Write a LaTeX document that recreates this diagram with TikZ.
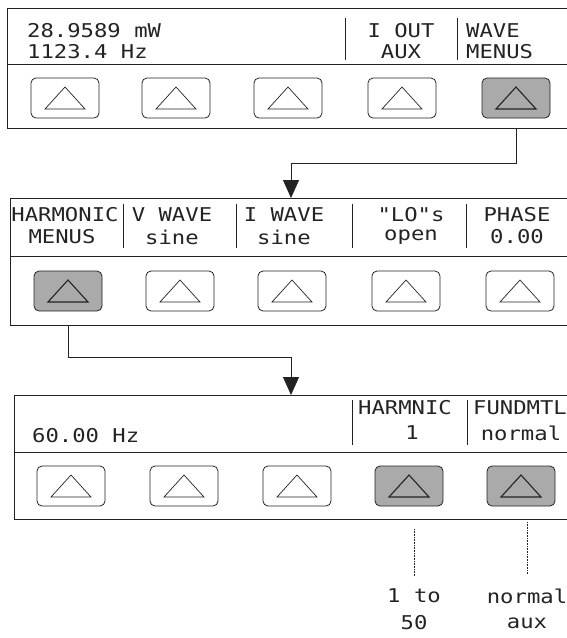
\documentclass[tikz,border=0pt]{standalone}
\usepackage{fontspec}
\usepackage{tikz}
\usetikzlibrary{arrows.meta,positioning,calc}
\newfontfamily\lcdfont[FakeStretch=1.17]{DejaVu Sans Mono}
\definecolor{ink}{RGB}{35,35,35}
\definecolor{pressed}{RGB}{170,170,170}

\begin{document}
\begin{tikzpicture}[
  x=1pt, y=-1pt,
  panel/.style={draw=ink, line width=1pt, anchor=north west, inner sep=0pt, minimum width=600pt},
  lcd/.style={font=\lcdfont\fontsize{19}{22}\selectfont, inner sep=0pt, text=ink},
  key/.style={draw=ink, line width=0.8pt, rounded corners=5pt, minimum width=68pt, minimum height=40pt, inner sep=0pt},
  keyon/.style={key, fill=pressed},
  tri/.style={draw=ink, line width=0.7pt},
  sep/.style={draw=ink, line width=0.8pt},
  arr/.style={draw=ink, line width=0.9pt, -{Triangle[length=18pt, width=16pt]}},
  hint/.style={draw=ink, line width=0.6pt, densely dotted},
]
  \useasboundingbox (0,0) rectangle (567,638);
  \clip (0,0) rectangle (567,638);

  % first menu: front panel
  \node[panel, minimum height=120pt] (p1) at (7,8) {};
  \draw[sep] (7,64) -- (600,64);
  \node[lcd, anchor=west] (pw) at (27,31) {28.9589 mW};
  \node[lcd, anchor=west] (fq) at (27,52) {1123.4 Hz};
  \draw[sep] (345,18) -- (345,60);
  \draw[sep] (457,18) -- (457,60);
  \node[lcd] (iout) at (401,31) {I OUT};
  \node[lcd] (aux) at (401,52) {AUX};
  \node[lcd, anchor=west] (wave) at (466,31) {WAVE};
  \node[lcd, anchor=west] (menus) at (466,52) {MENUS};
  \foreach \x/\s/\w [count=\i] in {65/key/0.7,176/key/0.7,288/key/0.7,402/key/0.7,516/keyon/1.1} {
    \node[\s] (k1\i) at (\x,98) {};
    \draw[tri, line width=\w pt] ($(k1\i)+(-20,11)$) -- ++(40,0) -- ++(-20,-22) -- cycle;
  }

  % second menu: wave menus
  \node[panel, minimum height=127pt] (p2) at (10,198) {};
  \draw[sep] (10,256) -- (600,256);
  \foreach \x in {123,236,352,466}
    \draw[sep] (\x,204) -- (\x,248);
  \node[lcd] (hm) at (65,215) {HARMONIC};
  \node[lcd] (hm2) at (62,237) {MENUS};
  \node[lcd] (vw) at (172,215) {V WAVE};
  \node[lcd] (vw2) at (172,237) {sine};
  \node[lcd] (iw) at (284,215) {I WAVE};
  \node[lcd] (iw2) at (284,237) {sine};
  \node[lcd] (lo) at (411,215) {"LO"s};
  \node[lcd] (lo2) at (411,237) {open};
  \node[lcd] (ph) at (517,215) {PHASE};
  \node[lcd] (ph2) at (517,237) {0.00};
  \foreach \x/\s/\w [count=\i] in {68/keyon/1.1,180/key/0.7,292/key/0.7,406/key/0.7,520/key/0.7} {
    \node[\s] (k2\i) at (\x,291) {};
    \draw[tri, line width=\w pt] ($(k2\i)+(-20,11)$) -- ++(40,0) -- ++(-20,-22) -- cycle;
  }

  % third menu: harmonic menus
  \node[panel, minimum height=124pt] (p3) at (14,395) {};
  \draw[sep] (14,452) -- (600,452);
  \draw[sep] (352,400) -- (352,445);
  \draw[sep] (467,400) -- (467,445);
  \node[lcd, anchor=west] (hz) at (32,436) {60.00 Hz};
  \node[lcd] (hn) at (405,408) {HARMNIC};
  \node[lcd] (hn2) at (412,433) {1};
  \node[lcd, anchor=west] (fu) at (473,408) {FUNDMTL};
  \node[lcd] (fu2) at (521,433) {normal};
  \foreach \x/\s/\w [count=\i] in {71/key/0.7,184/key/0.7,297/key/0.7,409/keyon/1.1,521/keyon/1.1} {
    \node[\s] (k3\i) at (\x,486) {};
    \draw[tri, line width=\w pt] ($(k3\i)+(-20,11)$) -- ++(40,0) -- ++(-20,-22) -- cycle;
  }

  % choices
  \node[lcd] (ch1) at (414,596) {1 to};
  \node[lcd] (ch1b) at (414,623) {50};
  \node[lcd] (ch2) at (527,596) {normal};
  \node[lcd] (ch2b) at (527,623) {aux};
  \draw[hint] ($(ch1 |- p3.south)+(0,9)$) -- ($(ch1.north)+(0,-12)$);
  \draw[hint] ($(ch2 |- p3.south)+(0,2)$) -- ($(ch2.north)+(0,-14)$);

  % connectors
  \coordinate (drop1) at (291,163);
  \coordinate (drop2) at (291,357);
  \draw[arr] (k15 |- p1.south) |- (drop1) -- (drop1 |- p2.north);
  \draw[arr] (k21 |- p2.south) |- (drop2) -- (drop2 |- p3.north);
\end{tikzpicture}
\end{document}
